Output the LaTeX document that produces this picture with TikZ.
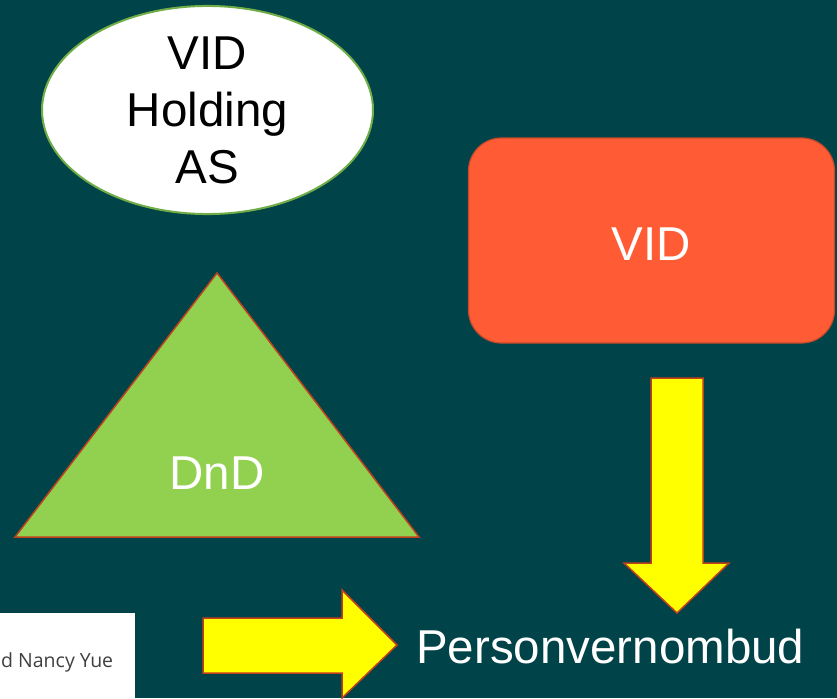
\documentclass[tikz,border=0pt]{standalone}
\usepackage{fontspec}
\setmainfont{Liberation Sans}
\newfontfamily\notefont{Open Sans}
\usetikzlibrary{shapes.geometric}
\definecolor{bgteal}{RGB}{0,67,73}
\definecolor{vidorange}{RGB}{255,92,53}
\definecolor{videdge}{RGB}{196,74,42}
\definecolor{dndgreen}{RGB}{146,208,80}
\definecolor{rededge}{RGB}{192,64,30}
\definecolor{ellgreen}{RGB}{112,173,71}
\definecolor{notegrey}{RGB}{64,64,64}
\definecolor{pureyellow}{RGB}{255,255,0}
\tikzset{
  x=1pt, y=-1pt,
  bigtext/.style={font=\fontsize{47.5}{57}\selectfont},
  yellowarrow/.style={fill=pureyellow, draw=rededge, line width=1.5pt, line join=miter},
}
\begin{document}
\begin{tikzpicture}
\useasboundingbox (0,0) rectangle (837,698);
\fill[bgteal] (0,0) rectangle (837,698);

% VID Holding AS ellipse
\node[ellipse, draw=ellgreen, line width=2pt, fill=white, inner sep=0pt,
      minimum width=331pt, minimum height=204pt, bigtext, align=center, text=black]
  (holding) at (207.5,110) {VID\\Holding\\AS};

% VID rounded rectangle
\node[rectangle, rounded corners=33pt, draw=videdge, line width=1.2pt, fill=vidorange,
      minimum width=366pt, minimum height=205pt, inner sep=0pt, bigtext, text=white,
      text height=39pt, text depth=0pt]
  (vid) at (651.5,240.5) {VID};

% DnD triangle
\draw[fill=dndgreen, draw=rededge, line width=1.5pt, line join=miter]
  (217,273) -- (419,537) -- (15,537) -- cycle;
\node[bigtext, text=white, inner sep=0pt] (dnd) at (217,473.5) {DnD};

% down arrow
\draw[yellowarrow] (651,378) -- (703,378) -- (703,563) -- (729,563) -- (677,613)
  -- (624,563) -- (651,563) -- cycle;

% right arrow
\draw[yellowarrow] (203,618) -- (342,618) -- (342,590) -- (397,645) -- (342,698)
  -- (342,673) -- (203,673) -- cycle;

% Personvernombud
\node[bigtext, text=white, inner sep=0pt, anchor=base west] (pvo) at (416,663) {Personvernombud};

% white note box
\fill[white] (0,613) rectangle (135,698);
\node[font=\notefont\fontsize{19.5}{23}\selectfont, text=notegrey, inner sep=0pt, anchor=base west]
  (note) at (1,667) {d Nancy Yue};
\end{tikzpicture}
\end{document}
